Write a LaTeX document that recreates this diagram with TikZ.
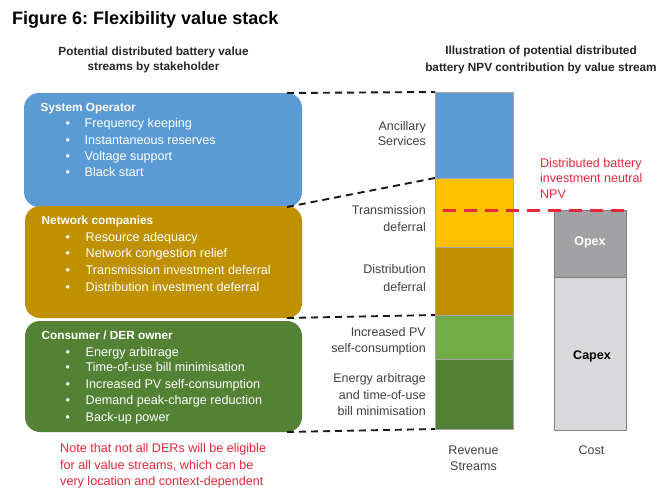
\documentclass[tikz,border=0pt]{standalone}
\usepackage{fontspec}
\setmainfont{Liberation Sans}
\frenchspacing
\definecolor{blueC}{HTML}{5B9BD5}
\definecolor{goldC}{HTML}{BF9000}
\definecolor{greenC}{HTML}{548235}
\definecolor{yellowC}{HTML}{FFC000}
\definecolor{lgreenC}{HTML}{70AD47}
\definecolor{opexC}{HTML}{A2A2A4}
\definecolor{capexC}{HTML}{D9D9DB}
\definecolor{redC}{HTML}{E5283A}
\definecolor{labelC}{HTML}{404040}
\begin{document}
\begin{tikzpicture}[x=1pt,y=-1pt,
  stake/.style={rounded corners=15pt, inner sep=0pt, outer sep=0pt, anchor=north west},
  seg/.style={draw=black!35, line width=0.4pt, inner sep=0pt, outer sep=0pt, anchor=north west},
  hdr/.style={anchor=base west, inner sep=0pt, text=white, font=\fontsize{11.8}{14}\selectfont\bfseries},
  item/.style={anchor=base west, inner sep=0pt, text=white, font=\fontsize{12.6}{15}\selectfont},
  dot/.style={anchor=base, inner sep=0pt, text=white, font=\fontsize{12.5}{15}\selectfont},
  sub/.style={anchor=base, inner sep=0pt, text=black!85, font=\fontsize{11.8}{14}\selectfont\bfseries},
  barlabel/.style={anchor=base east, inner sep=0pt, text=labelC, font=\fontsize{12.5}{15}\selectfont},
  axislabel/.style={anchor=base, inner sep=0pt, text=labelC, font=\fontsize{12.5}{15}\selectfont},
  note/.style={anchor=base west, inner sep=0pt, text=redC, font=\fontsize{12.6}{15}\selectfont},
  conn/.style={draw=black!90, line width=1.9pt, dash pattern=on 7pt off 5pt},
  npv/.style={draw=redC, line width=3pt, dash pattern=on 13pt off 8pt}
]
\useasboundingbox (0,0) rectangle (657,488);

% title
\node[anchor=base west, inner sep=0pt, font=\fontsize{18}{21}\selectfont\bfseries] (title) at (12,24.5) {Figure 6: Flexibility value stack};

% column headings
\node[sub] (lh1) at (153.5,55.8) {Potential distributed battery value};
\node[sub] (lh2) at (153.5,70.8) {streams by stakeholder};
\node[sub] (rh1) at (541,54.1) {Illustration of potential distributed};
\node[sub] (rh2) at (541,71.1) {battery NPV contribution by value stream};

% stakeholder boxes
\node[stake, fill=blueC, minimum width=278pt, minimum height=114pt] (so) at (24,93) {};
\node[stake, fill=goldC, minimum width=277pt, minimum height=112pt] (nc) at (25,206) {};
\node[stake, fill=greenC, minimum width=277pt, minimum height=111pt] (cd) at (25,321) {};

\node[hdr] (soh) at (40.5,111.2) {System Operator};
\foreach \y/\t [count=\i] in {123/Frequency keeping, 140/Instantaneous reserves, 156/Voltage support, 172/Black start}{
  \node[dot] (sob\i) at (67.7,\y+4.3) {\textbullet};
  \node[item] (soi\i) at (84.5,\y+4.3) {\t};
}

\node[hdr] (nch) at (41.5,224.8) {Network companies};
\foreach \y/\t [count=\i] in {236.7/Resource adequacy, 253.3/Network congestion relief, 270/Transmission investment deferral, 287/Distribution investment deferral}{
  \node[dot] (ncb\i) at (67.7,\y+4.3) {\textbullet};
  \node[item] (nci\i) at (85.5,\y+4.3) {\t};
}

\node[hdr] (cdh) at (41.5,339.1) {Consumer / DER owner};
\foreach \y/\t [count=\i] in {351.7/Energy arbitrage, 367.5/Time-of-use bill minimisation, 384/Increased PV self-consumption, 400.3/Demand peak-charge reduction, 417/Back-up power}{
  \node[dot] (cdb\i) at (67.7,\y+4.3) {\textbullet};
  \node[item] (cdi\i) at (85.5,\y+4.3) {\t};
}

% caveat
\node[note] (n1) at (60,452.6) {Note that not all DERs will be eligible};
\node[note] (n2) at (60,469.3) {for all value streams, which can be};
\node[note] (n3) at (60,485.3) {very location and context-dependent};

% revenue stack
\node[seg, fill=blueC, minimum width=78pt, minimum height=86pt] (anc) at (435,92) {};
\node[seg, fill=yellowC, minimum width=78pt, minimum height=69pt] (trn) at (435,178) {};
\node[seg, fill=goldC, minimum width=78pt, minimum height=68pt] (dst) at (435,247) {};
\node[seg, fill=lgreenC, minimum width=78pt, minimum height=44pt] (pv) at (435,315) {};
\node[seg, fill=greenC, minimum width=78pt, minimum height=70pt] (arb) at (435,359) {};

% cost stack
\node[seg, draw=black!50, fill=opexC, minimum width=72pt, minimum height=67pt] (opex) at (554,210) {};
\node[seg, draw=black!50, fill=capexC, minimum width=72pt, minimum height=153pt] (capex) at (554,277) {};
\node[anchor=base, inner sep=0pt, text=white, font=\fontsize{12.5}{15}\selectfont\bfseries] (opexl) at (590,245.5) {Opex};
\node[anchor=base, inner sep=0pt, text=black, font=\fontsize{12.5}{15}\selectfont\bfseries] (capexl) at (592,359.5) {Capex};

% stack labels
\node[barlabel] (l1a) at (426,130) {Ancillary};
\node[barlabel] (l1b) at (426,145.5) {Services};
\node[barlabel] (l2a) at (426,214.3) {Transmission};
\node[barlabel] (l2b) at (426,231) {deferral};
\node[barlabel] (l3a) at (426,273.6) {Distribution};
\node[barlabel] (l3b) at (426,291) {deferral};
\node[barlabel] (l4a) at (426,336.6) {Increased PV};
\node[barlabel] (l4b) at (426,352.6) {self-consumption};
\node[barlabel] (l5a) at (426,382.6) {Energy arbitrage};
\node[barlabel] (l5b) at (426,399.3) {and time-of-use};
\node[barlabel] (l5c) at (426,415.3) {bill minimisation};

\node[axislabel] (rs1) at (473.5,454.3) {Revenue};
\node[axislabel] (rs2) at (473.5,470.3) {Streams};
\node[axislabel] (cst) at (591.5,454.3) {Cost};

% neutral NPV threshold
\node[anchor=base west, inner sep=0pt, text=redC, font=\fontsize{12.5}{15}\selectfont] (npv1) at (540,167) {Distributed battery};
\node[anchor=base west, inner sep=0pt, text=redC, font=\fontsize{12.5}{15}\selectfont] (npv2) at (540,182) {investment neutral};
\node[anchor=base west, inner sep=0pt, text=redC, font=\fontsize{12.5}{15}\selectfont] (npv3) at (540,198.3) {NPV};
\coordinate (npvL) at (443,210);
\draw[npv] (npvL) -- (opex.north east);

% links from stakeholders to their value streams
\draw[conn] ([xshift=-15pt]so.north east) -- (anc.north west);
\draw[conn] ([xshift=-15pt]so.south east) -- (anc.south west);
\draw[conn] ([xshift=-15pt]nc.south east) -- (dst.south west);
\draw[conn] ([xshift=-15pt]cd.south east) -- (arb.south west);
\end{tikzpicture}
\end{document}
